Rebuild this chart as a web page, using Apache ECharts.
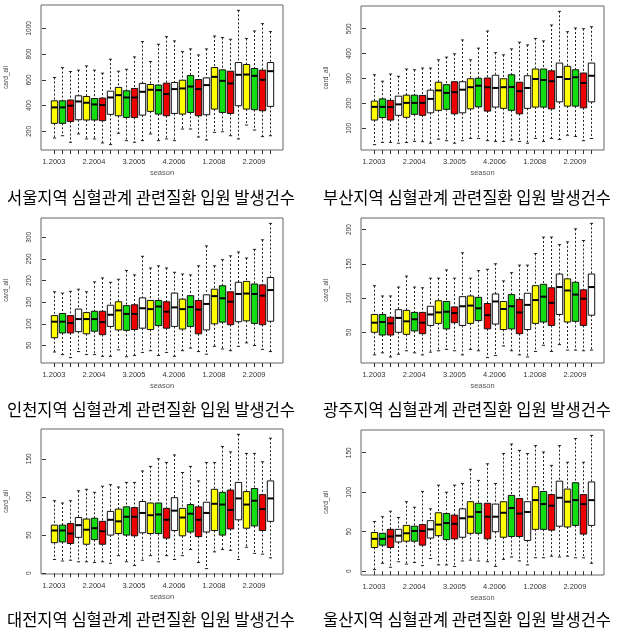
<!DOCTYPE html>
<html><head><meta charset="utf-8">
<script src="https://cdn.jsdelivr.net/npm/echarts@6/dist/echarts.min.js"></script>
<style>html,body{margin:0;padding:0;background:#fff}#c{width:622px;height:636px}</style>
</head><body><div id="c"></div>
<script>
// categories: season.year, chronological
const categories = ['1.2003','2.2003','3.2003','4.2003','1.2004','2.2004','3.2004','4.2004',
  '1.2005','2.2005','3.2005','4.2005','1.2006','2.2006','3.2006','4.2006',
  '1.2007','2.2007','3.2007','4.2007','1.2008','2.2008','3.2008','4.2008',
  '1.2009','2.2009','3.2009','4.2009'];
const labelPositions = [1, 6, 11, 16, 21, 26];

// each entry: [lower whisker, Q1, median, Q3, upper whisker]
const seoul = [[148,262,386,437,618],[166,262,386,437,695],[115,277,399,443,664],[180,290,432,476,675],
  [141,288,422,471,708],[141,288,409,455,675],[110,283,404,458,652],[97,332,463,512,760],
  [185,321,481,541,667],[128,308,463,515,682],[115,308,463,533,778],[128,326,507,572,897],
  [180,355,523,564,742],[128,334,520,559,876],[141,321,489,574,935],[128,339,528,579,902],
  [218,334,533,597,819],[218,347,548,633,840],[156,321,528,602,793],[133,329,559,615,840],
  [192,373,623,695,940],[197,347,592,677,928],[166,339,572,667,915],[141,399,639,734,1139],
  [249,373,641,719,920],[210,368,631,688,979],[159,360,600,675,1036],[166,394,667,734,974]];
const busan = [[34,133,186,209,315],[43,143,186,218,289],[43,133,185,212,318],[40,152,196,229,309],
  [43,144,202,233,338],[47,156,202,233,335],[46,152,202,232,342],[40,162,218,253,342],
  [56,172,252,285,375],[50,176,242,275,386],[40,158,245,287,399],[50,162,255,287,455],
  [59,178,265,299,375],[59,186,271,301,422],[50,169,265,302,491],[47,185,262,313,404],
  [47,180,265,299,395],[53,172,266,315,419],[47,158,249,285,446],[40,180,262,311,435],
  [59,185,298,338,461],[47,185,294,338,451],[59,178,289,331,515],[55,206,306,362,570],
  [72,189,298,349,488],[67,189,305,335,503],[50,182,282,322,500],[59,206,311,362,508]];
const incheon = [[35,68,105,119,174],[29,79,105,124,171],[22,79,102,119,175],[36,82,111,134,180],
  [29,77,111,126,174],[29,83,111,129,197],[25,75,104,129,206],[25,94,121,143,196],
  [40,86,131,151,203],[24,85,123,142,223],[27,87,123,144,213],[34,90,136,160,256],
  [38,87,134,154,229],[27,96,140,154,234],[34,90,128,151,229],[25,94,138,171,219],
  [38,88,134,157,215],[44,94,139,165,213],[36,77,133,154,234],[30,86,146,167,280],
  [48,100,164,180,234],[42,104,159,188,248],[38,98,151,174,257],[48,105,169,196,266],
  [56,107,170,198,252],[50,101,169,192,272],[41,98,165,190,294],[36,106,178,207,332]];
const gwangju = [[17,50,64,76,118],[20,46,65,76,103],[14,46,63,72,103],[18,50,71,83,116],
  [23,47,66,82,132],[20,52,69,79,116],[17,48,64,79,115],[21,60,76,88,129],
  [23,63,79,96,129],[25,55,80,95,141],[23,64,78,87,129],[17,60,88,102,166],
  [25,63,89,103,129],[23,67,85,101,140],[13,55,75,92,142],[16,62,95,106,150],
  [30,54,84,95,125],[23,55,88,105,137],[17,48,79,98,148],[14,54,90,107,148],
  [22,63,97,118,165],[31,65,102,120,189],[22,60,93,115,189],[32,76,116,135,178],
  [24,65,111,128,182],[24,66,105,123,201],[23,60,99,112,184],[24,75,116,135,209]];
const daejeon = [[18,40,56,63,95],[16,41,56,63,92],[17,39,52,65,95],[15,47,63,73,108],
  [15,38,57,71,110],[14,44,59,72,106],[15,38,55,68,114],[13,50,70,81,116],
  [23,52,68,84,113],[15,50,74,87,119],[10,49,74,86,119],[17,53,79,94,134],
  [23,52,76,92,140],[15,52,77,92,150],[23,46,70,85,145],[18,56,82,99,155],
  [23,49,73,85,132],[31,54,78,90,140],[14,48,70,87,121],[6,54,79,93,145],
  [28,56,91,110,145],[31,50,90,106,166],[30,58,83,109,159],[18,70,98,119,182],
  [34,59,90,107,157],[26,62,95,111,157],[25,56,84,103,146],[20,68,98,121,177]];
const ulsan = [[2,30,41,49,63],[10,33,41,48,69],[5,30,44,53,76],[12,37,45,53,68],
  [9,38,48,58,88],[11,38,51,57,81],[7,33,51,59,101],[16,42,53,64,79],
  [8,45,59,74,109],[8,40,61,73,100],[6,41,60,71,109],[13,43,67,79,111],
  [14,48,69,88,129],[13,48,75,86,115],[12,41,69,86,136],[6,50,69,85,111],
  [15,43,74,88,149],[18,44,80,96,161],[13,44,73,92,153],[8,39,75,88,149],
  [17,53,90,107,159],[17,53,85,101,151],[19,52,83,97,134],[18,57,93,114,159],
  [19,56,88,104,138],[17,58,90,112,168],[17,47,85,97,138],[10,58,90,113,172]];

const seoulTicks = [200,400,600,800,1000];
const busanTicks = [100,200,300,400,500];
const incheonTicks = [50,100,150,200,250,300];
const gwangjuTicks = [50,100,150,200];
const daejeonTicks = [0,50,100,150];
const ulsanTicks = [0,50,100,150];

const captions = ['서울지역 심혈관계 관련질환 입원 발생건수','부산지역 심혈관계 관련질환 입원 발생건수',
  '인천지역 심혈관계 관련질환 입원 발생건수','광주지역 심혈관계 관련질환 입원 발생건수',
  '대전지역 심혈관계 관련질환 입원 발생건수','울산지역 심혈관계 관련질환 입원 발생건수'];

const seasonColors = ['#ffff00','#11dd11','#ee0000','#ffffff'];

const panelData = [seoul, busan, incheon, gwangju, daejeon, ulsan];
const panelTicks = [seoulTicks, busanTicks, incheonTicks, gwangjuTicks, daejeonTicks, ulsanTicks];
const layout = [
  {left:41, top:5, width:242, height:145, cx:151, cy:198},
  {left:361, top:6, width:243, height:144, cx:467, cy:198},
  {left:41, top:218, width:242, height:145, cx:151, cy:410},
  {left:361, top:218, width:243, height:145, cx:467, cy:410},
  {left:41, top:429, width:242, height:145, cx:151, cy:620},
  {left:361, top:430, width:243, height:145, cx:467, cy:620}
];

const n = categories.length;
const xTicks = categories.map((c, i) => i + 1);
const xMin = 0.5 - 0.04 * n, xMax = n + 0.5 + 0.04 * n;

function renderBox(params, api) {
  const x = api.value(0);
  const lo = api.coord([x, api.value(1)]);
  const q1 = api.coord([x, api.value(2)]);
  const md = api.coord([x, api.value(3)]);
  const q3 = api.coord([x, api.value(4)]);
  const hi = api.coord([x, api.value(5)]);
  const w = api.size([0.8, 0])[0];
  const cx = Math.round(md[0]) + 0.5;
  const fill = seasonColors[(x - 1) % 4];
  const wh = {stroke:'#222', lineWidth:1, lineDash:[2,2]};
  const cap = {stroke:'#222', lineWidth:1};
  return {type:'group', children:[
    {type:'line', shape:{x1:cx, y1:hi[1], x2:cx, y2:q3[1]}, style:wh},
    {type:'line', shape:{x1:cx, y1:q1[1], x2:cx, y2:lo[1]}, style:wh},
    {type:'line', shape:{x1:cx - w/4, y1:hi[1], x2:cx + w/4, y2:hi[1]}, style:cap},
    {type:'line', shape:{x1:cx - w/4, y1:lo[1], x2:cx + w/4, y2:lo[1]}, style:cap},
    {type:'rect', shape:{x:cx - w/2, y:q3[1], width:w, height:q1[1] - q3[1]}, style:{fill:fill, stroke:'#111', lineWidth:1}},
    {type:'line', shape:{x1:cx - w/2, y1:md[1], x2:cx + w/2, y2:md[1]}, style:{stroke:'#000', lineWidth:2}}
  ]};
}

const grids = [], xAxes = [], yAxes = [], series = [], graphics = [];
panelData.forEach((data, i) => {
  const L = layout[i];
  let lo = Infinity, hi = -Infinity;
  data.forEach(d => { lo = Math.min(lo, d[0]); hi = Math.max(hi, d[4]); });
  const pad = 0.04 * (hi - lo);
  grids.push({left:L.left, top:L.top, width:L.width, height:L.height, show:true,
    borderColor:'#666', borderWidth:1, backgroundColor:'transparent'});
  xAxes.push({type:'value', gridIndex:i, min:xMin, max:xMax,
    splitLine:{show:false}, axisLine:{show:false},
    axisTick:{show:true, customValues:xTicks, length:4, lineStyle:{color:'#333'}},
    axisLabel:{customValues:labelPositions, formatter:v => categories[Math.round(v) - 1],
      fontSize:7.5, color:'#333', margin:8, fontFamily:'Liberation Sans'},
    name:'season', nameLocation:'middle', nameGap:19,
    nameTextStyle:{fontSize:7.5, color:'#555', fontFamily:'Liberation Sans'}});
  yAxes.push({type:'value', gridIndex:i, min:lo - pad, max:hi + pad,
    splitLine:{show:false}, axisLine:{show:false},
    axisTick:{show:true, customValues:panelTicks[i], length:4, lineStyle:{color:'#333'}},
    axisLabel:{customValues:panelTicks[i], formatter:v => String(v), rotate:90, fontSize:6.5,
      color:'#333', margin:8, fontFamily:'Liberation Sans'},
    name:'card_all', nameLocation:'middle', nameGap:31,
    nameTextStyle:{fontSize:6.5, color:'#444', fontFamily:'Liberation Sans'}});
  series.push({type:'custom', xAxisIndex:i, yAxisIndex:i, renderItem:renderBox,
    dimensions:['x','lo','q1','med','q3','hi'],
    encode:{x:0, y:[1,2,3,4,5]}, clip:false, silent:true,
    data:data.map((d, k) => [k + 1].concat(d))});
  graphics.push({type:'text', x:L.cx, y:L.cy, style:{text:captions[i], fontSize:16.5,
    fontFamily:'Noto Sans CJK KR', fill:'#000', align:'center', verticalAlign:'middle'}});
});

const chart = echarts.init(document.getElementById('c'), null, {renderer:'canvas'});
chart.setOption({animation:false, backgroundColor:'#fff', grid:grids, xAxis:xAxes, yAxis:yAxes,
  series:series, graphic:graphics});
</script></body></html>
